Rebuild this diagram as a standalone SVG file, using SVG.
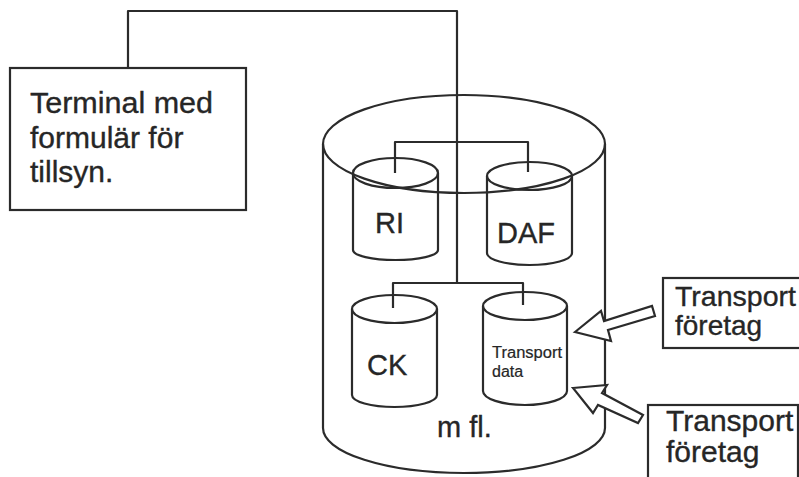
<svg xmlns="http://www.w3.org/2000/svg" width="799" height="477" viewBox="0 0 799 477">
  <style>
    .ln { fill: none; stroke: #2b2b2b; stroke-width: 2.2; stroke-linejoin: round; }
    .box { fill: #ffffff; stroke: #2b2b2b; stroke-width: 2.2; }
    .arrow { fill: #ffffff; stroke: #2b2b2b; stroke-width: 2.2; stroke-linejoin: miter; }
    .t { font-family: "Liberation Sans", Arial, sans-serif; fill: #262626; stroke: #262626; stroke-width: 0.35; }
    .big { font-size: 30px; }
    .lbl { font-size: 29px; }
    .tight { font-size: 28px; }
    .small { font-size: 16px; stroke-width: 0.2; }
  </style>
  <rect width="799" height="477" fill="#ffffff"/>

  <!-- Main database container -->
  <g id="database">
    <ellipse class="ln" cx="464" cy="144" rx="141" ry="49"/>
    <path class="ln" d="M323 144 L323 428 A141 45 0 0 0 605 428 L605 144"/>
    <text class="t lbl" x="437" y="437">m fl.</text>
  </g>

  <!-- Connectors -->
  <g id="connectors">
    <polyline class="ln" points="128,68 128,11 457,11 457,283"/>
    <polyline class="ln" points="395,173 395,142 528,142 528,172"/>
    <polyline class="ln" points="393,308 393,283 523,283 523,305"/>
  </g>

  <g id="ri">
    <ellipse class="ln" cx="395.5" cy="173" rx="42.5" ry="15"/>
    <path class="ln" d="M353 173 L353 250 A42.5 10 0 0 0 438 250 L438 173"/>
    <text class="t lbl" x="375" y="233">RI</text>
  </g>

  <g id="daf">
    <ellipse class="ln" cx="529.5" cy="176" rx="42.5" ry="14"/>
    <path class="ln" d="M487 176 L487 253 A42.5 12 0 0 0 572 253 L572 176"/>
    <text class="t lbl" x="497" y="243">DAF</text>
  </g>

  <g id="ck">
    <ellipse class="ln" cx="394.5" cy="309" rx="42.5" ry="14"/>
    <path class="ln" d="M352 309 L352 395 A42.5 12 0 0 0 437 395 L437 309"/>
    <text class="t lbl" x="367" y="375">CK</text>
  </g>

  <g id="transportdata">
    <ellipse class="ln" cx="525" cy="306" rx="42" ry="14"/>
    <path class="ln" d="M483 306 L483 391 A42 14 0 0 0 567 391 L567 306"/>
    <text class="t small" x="492" y="358" textLength="70" lengthAdjust="spacingAndGlyphs">Transport</text>
    <text class="t small" x="492" y="377">data</text>
  </g>

  <g id="terminal">
    <rect class="box" x="10" y="68" width="236" height="142"/>
    <text class="t big" x="30" y="113" textLength="183" lengthAdjust="spacingAndGlyphs">Terminal med</text>
    <text class="t big" x="30" y="148">formulär för</text>
    <text class="t big" x="30" y="182">tillsyn.</text>
  </g>

  <!-- Incoming flows -->
  <g id="arrows">
    <polygon class="arrow" points="575,332 601,311 604,321 652,306 655,316 608,330 611,341"/>
    <polygon class="arrow" points="573,388 607,385 602,393 643,415 638,423 598,405 593,413"/>
  </g>

  <g id="foretag1">
    <rect class="box" x="663" y="278" width="150" height="70"/>
    <text class="t tight" x="675" y="306" textLength="121" lengthAdjust="spacingAndGlyphs">Transport</text>
    <text class="t tight" x="675" y="335">företag</text>
  </g>

  <g id="foretag2">
    <rect class="box" x="648" y="405" width="150" height="80"/>
    <text class="t big" x="666" y="431">Transport</text>
    <text class="t big" x="666" y="462">företag</text>
  </g>
</svg>
